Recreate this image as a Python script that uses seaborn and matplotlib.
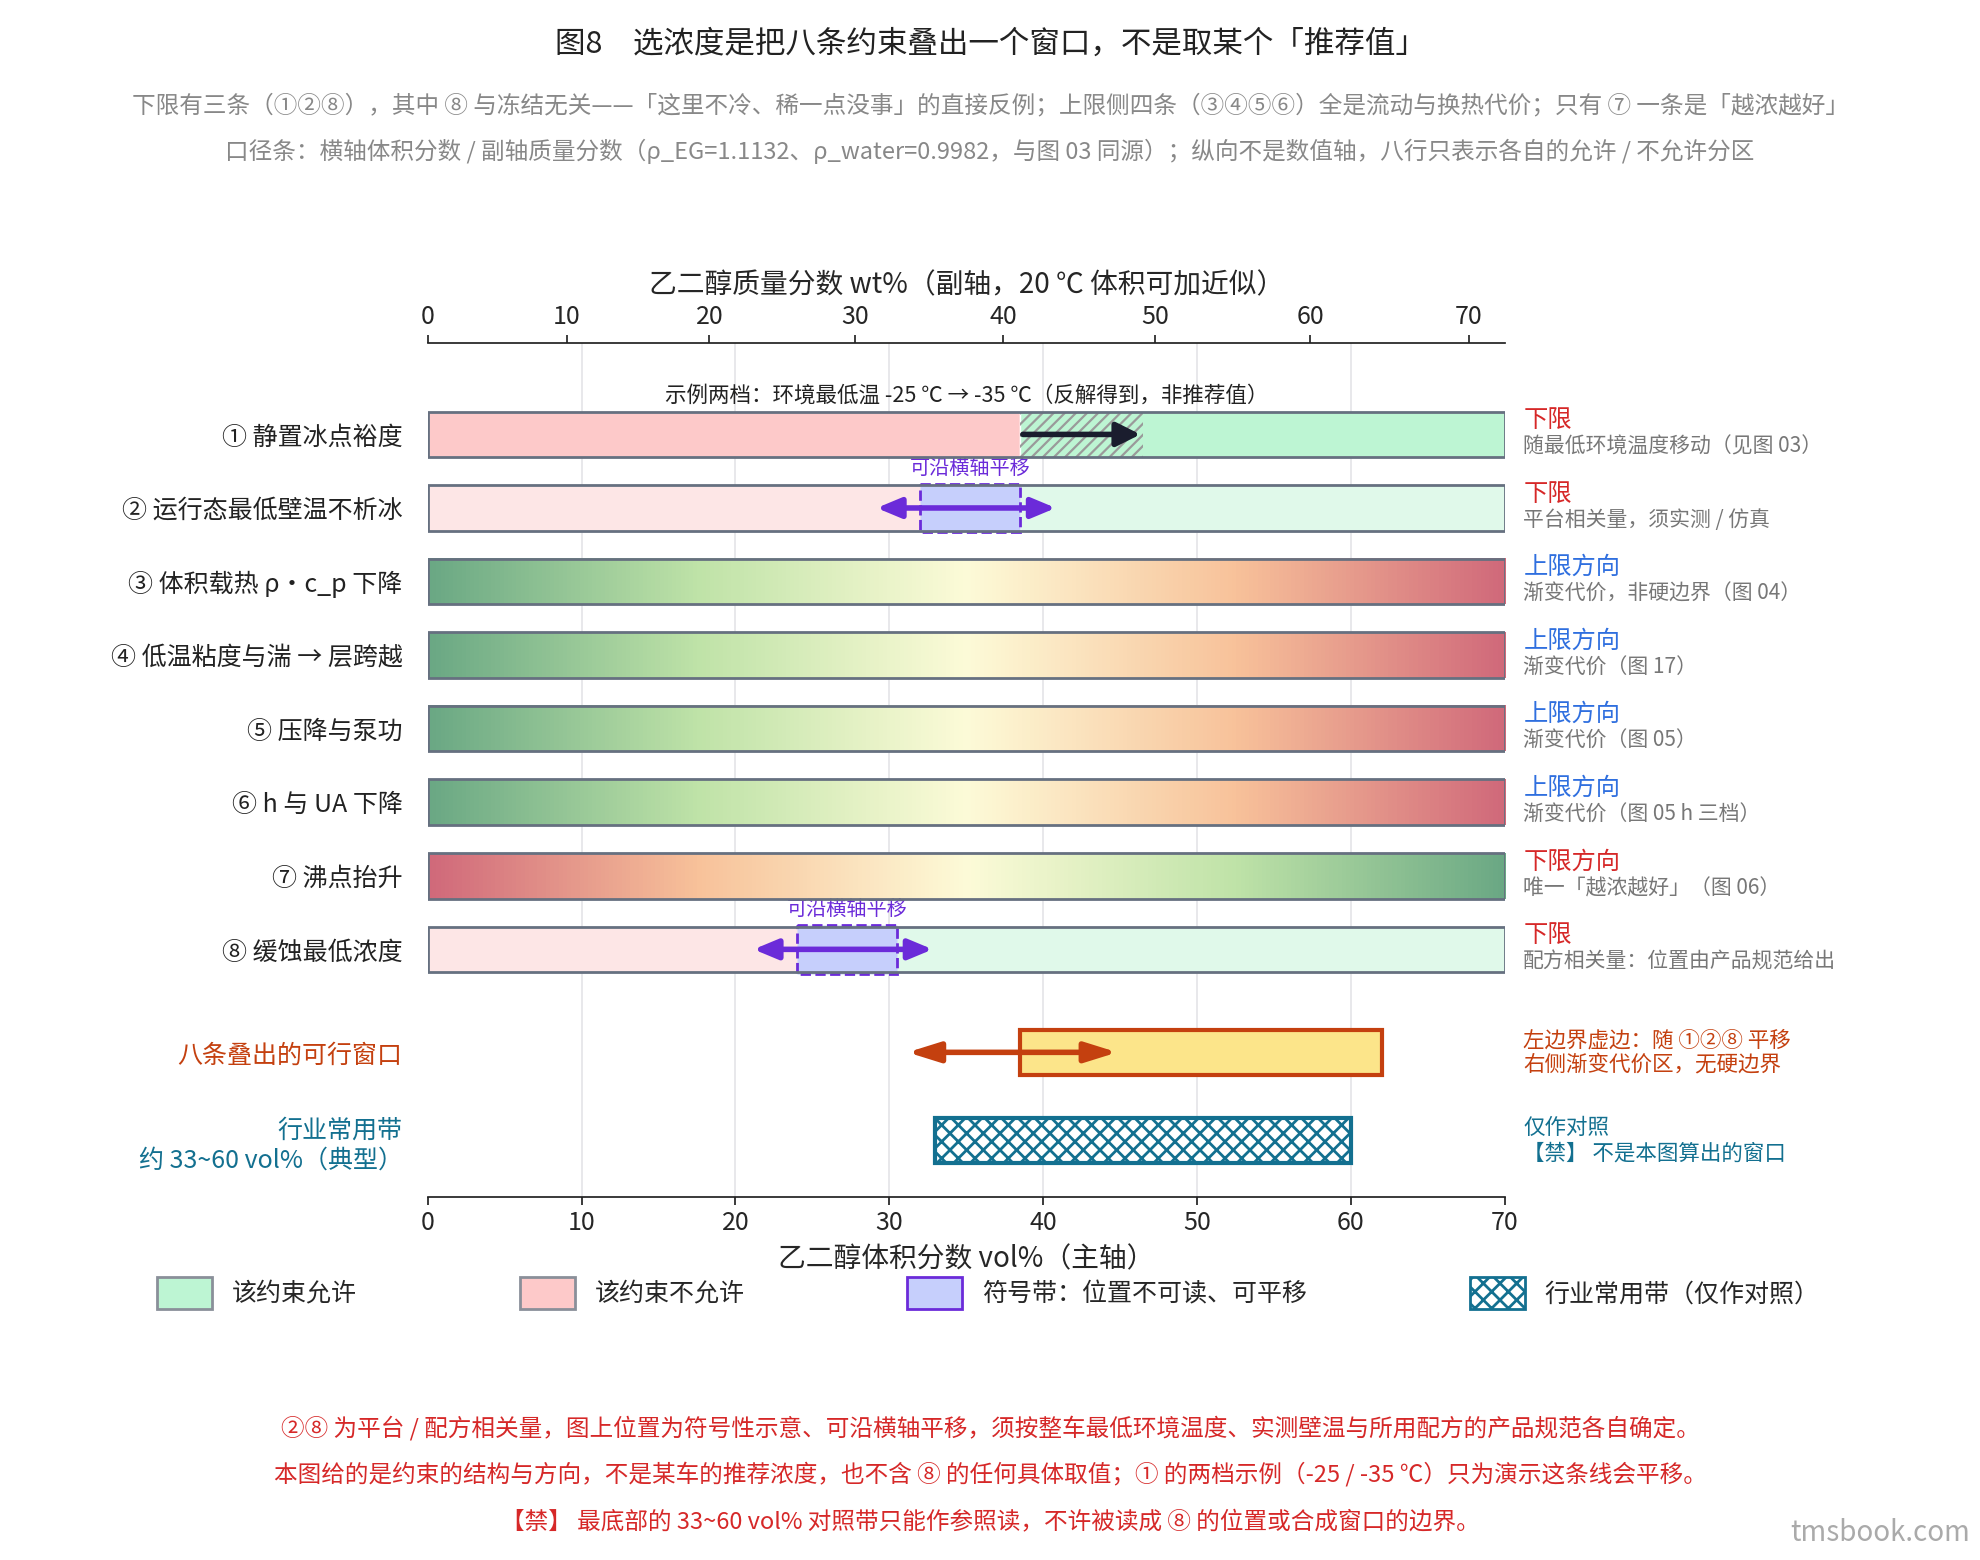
import numpy as np
import matplotlib
matplotlib.use("Agg")
import matplotlib.pyplot as plt
from matplotlib.colors import LinearSegmentedColormap
from matplotlib.patches import Patch
import seaborn as sns

sns.set_theme(style="white")
plt.rcParams['font.family'] = ['Noto Sans CJK SC', 'DejaVu Sans']
plt.rcParams['hatch.linewidth'] = 1.6

RHO_EG, RHO_W = 1.1132, 0.9982

row_labels = ["① 静置冰点裕度", "② 运行态最低壁温不析冰", "③ 体积载热 ρ・c_p 下降",
              "④ 低温粘度与湍 → 层跨越", "⑤ 压降与泵功", "⑥ h 与 UA 下降", "⑦ 沸点抬升",
              "⑧ 缓蚀最低浓度", "八条叠出的可行窗口", "行业常用带\n约 33~60 vol%（典型）"]
row_y = [0, 1, 2, 3, 4, 5, 6, 7, 8.4, 9.6]
right_head = ["下限", "下限", "上限方向", "上限方向", "上限方向", "上限方向", "下限方向", "下限"]
right_sub = ["随最低环境温度移动（见图 03）", "平台相关量，须实测 / 仿真", "渐变代价，非硬边界（图 04）",
             "渐变代价（图 17）", "渐变代价（图 05）", "渐变代价（图 05 h 三档）",
             "唯一「越浓越好」（图 06）", "配方相关量：位置由产品规范给出"]
# step rows: (split between disallowed / allowed)
split_row1 = 38.5
split_row2 = 38.5
split_row8 = 27.0
shift_row1 = (38.5, 46.5)
box_row2 = (32.0, 38.5)
arrow_row2 = (29.0, 41.0)
box_row8 = (24.0, 30.5)
arrow_row8 = (21.0, 33.0)
window = (38.5, 62.0)
window_arrow = (31.0, 45.0)
band = (33.0, 60.0)
vmax = 70

RED, RED_L = "#fdc9c9", "#fde6e6"
GRN, GRN_L = "#bdf5d3", "#e0f9ea"
EDGE = "#667080"
PURPLE = "#6b2bd9"
ORANGE = "#c4400f"
TEAL = "#137090"

fig = plt.figure(figsize=(19.8, 15.6), dpi=100)
ax = fig.add_axes([0.216, 0.233, 0.544, 0.547])
ax.set_xlim(0, vmax)
ax.set_ylim(10.36, -1.24)
for x in range(10, vmax, 10):
    ax.axvline(x, color="#e4e4e8", lw=1.2, zorder=0)
h = 0.62

def bar(y, x0, x1, **kw):
    ax.barh(y, x1 - x0, left=x0, height=h, **kw)

# row 1, 2, 8
bar(0, 0, split_row1, color=RED, zorder=2)
bar(0, split_row1, vmax, color=GRN, zorder=2)
bar(0, shift_row1[0], shift_row1[1], color="none", hatch="///", edgecolor="#9a9a9a", lw=0, zorder=3)
for y, sp in [(1, split_row2), (7, split_row8)]:
    bar(y, 0, sp, color=RED_L, zorder=2)
    bar(y, sp, vmax, color=GRN_L, zorder=2)
for y in [0, 1, 7]:
    bar(y, 0, vmax, color="none", edgecolor=EDGE, lw=2, zorder=5)

ax.annotate("", xy=(shift_row1[1], 0), xytext=(shift_row1[0], 0),
            arrowprops=dict(arrowstyle="-|>,head_width=0.6,head_length=1.2", color="#1a1d2e", lw=4), zorder=6)
ax.text(sum(shift_row1) / 2 - 7.5, -0.38, "示例两档：环境最低温 -25 ℃ → -35 ℃（反解得到，非推荐值）",
        ha="center", va="bottom", fontsize=15.5, color="#222")

for y, bx, ar in [(1, box_row2, arrow_row2), (7, box_row8, arrow_row8)]:
    ax.barh(y, bx[1] - bx[0], left=bx[0], height=h + 0.04, color="#c6cffc",
            edgecolor=PURPLE, lw=2, ls="--", zorder=4)
    ax.annotate("", xy=(ar[1], y), xytext=(ar[0], y),
                arrowprops=dict(arrowstyle="<|-|>,head_width=0.5,head_length=1.2", color=PURPLE, lw=4), zorder=6)
    ax.text(sum(bx) / 2, y - 0.38, "可沿横轴平移", ha="center", va="bottom", fontsize=14.5, color=PURPLE)

# gradient rows
cmap = LinearSegmentedColormap.from_list("cost", ["#6aa884", "#bfe3a8", "#fdfbd8", "#f8c29a", "#d0697a"])
grad = np.linspace(0, 1, 256)[None, :]
for y in [2, 3, 4, 5, 6]:
    g = grad if y < 6 else grad[:, ::-1]
    ax.imshow(g, cmap=cmap, aspect="auto", extent=(0, vmax, y + h / 2, y - h / 2), zorder=2)
    bar(y, 0, vmax, color="none", edgecolor=EDGE, lw=2, zorder=5)
ax.set_xlim(0, vmax)
ax.set_ylim(10.36, -1.24)

# window & band
bar(8.4, window[0], window[1], color="#fce58a", edgecolor=ORANGE, lw=3, zorder=3)
ax.annotate("", xy=(window_arrow[1], 8.4), xytext=(window_arrow[0], 8.4),
            arrowprops=dict(arrowstyle="<|-|>,head_width=0.5,head_length=1.6", color=ORANGE, lw=4), zorder=6)
plt.rcParams['hatch.linewidth'] = 2.0
bar(9.6, band[0], band[1], color="white", hatch="xx", edgecolor=TEAL, lw=3, zorder=3)

# y labels
ax.set_yticks(row_y)
ax.set_yticklabels(row_labels, fontsize=18)
for lab, c in zip(ax.get_yticklabels(), ["#222"] * 8 + [ORANGE, TEAL]):
    lab.set_color(c)
ax.tick_params(axis="y", length=0, pad=18)

# right notes
for y, hd, sb in zip(row_y[:8], right_head, right_sub):
    c = "#d62828" if hd.startswith("下限") else "#2f6fdf"
    ax.text(71.2, y - 0.02, hd, color=c, fontsize=17.5, va="bottom", clip_on=False)
    ax.text(71.2, y + 0.02, sb, color="#777", fontsize=15, va="top", clip_on=False)
ax.text(71.2, 8.4, "左边界虚边：随 ①②⑧ 平移\n右侧渐变代价区，无硬边界", color=ORANGE, fontsize=15.5,
        va="center", clip_on=False, linespacing=1.1)
ax.text(71.2, 9.6, "仅作对照\n【禁】 不是本图算出的窗口", color=TEAL, fontsize=15.5,
        va="center", clip_on=False, linespacing=1.2)

# axes
for s in ["top", "right", "left"]:
    ax.spines[s].set_visible(False)
ax.spines["bottom"].set_color("#222")
ax.set_xticks(range(0, vmax + 1, 10))
ax.tick_params(axis="x", labelsize=18, length=6, color="#222", bottom=True)
ax.set_xlabel("乙二醇体积分数 vol%（主轴）", fontsize=20, labelpad=6)

def v2w(v):
    v = np.asarray(v, dtype=float)
    return 100 * v * RHO_EG / (v * RHO_EG + (100 - v) * RHO_W)

def w2v(w):
    w = np.asarray(w, dtype=float)
    a = w / RHO_EG
    return 100 * a / (a + (100 - w) / RHO_W)

sec = ax.secondary_xaxis("top", functions=(v2w, w2v))
sec.set_xticks(range(0, 71, 10))
sec.tick_params(labelsize=18, length=6)
sec.spines["top"].set_color("#222")
sec.set_xlabel("乙二醇质量分数 wt%（副轴，20 ℃ 体积可加近似）", fontsize=20, labelpad=8)

# legend
handles = [Patch(facecolor=GRN, edgecolor="#8a8f99", lw=2, label="该约束允许"),
           Patch(facecolor=RED, edgecolor="#8a8f99", lw=2, label="该约束不允许"),
           Patch(facecolor="#c6cffc", edgecolor=PURPLE, lw=2, label="符号带：位置不可读、可平移"),
           Patch(facecolor="white", edgecolor=TEAL, hatch="xx", lw=2, label="行业常用带（仅作对照）")]
fig.legend(handles=handles, loc="center left", bbox_to_anchor=(0.068, 0.171), ncol=4, frameon=False,
           fontsize=18, handlelength=2.2, handleheight=1.6, columnspacing=6.5, mode=None)

# titles
fig.text(0.5, 0.966, "图8　选浓度是把八条约束叠出一个窗口，不是取某个「推荐值」", ha="center", fontsize=22, color="#222")
fig.text(0.5, 0.928, "下限有三条（①②⑧），其中 ⑧ 与冻结无关——「这里不冷、稀一点没事」的直接反例；上限侧四条（③④⑤⑥）全是流动与换热代价；只有 ⑦ 一条是「越浓越好」",
         ha="center", fontsize=17, color="#888")
fig.text(0.5, 0.898, "口径条：横轴体积分数 / 副轴质量分数（ρ_EG=1.1132、ρ_water=0.9982，与图 03 同源）；纵向不是数值轴，八行只表示各自的允许 / 不允许分区",
         ha="center", fontsize=17, color="#888")
notes = ["②⑧ 为平台 / 配方相关量，图上位置为符号性示意、可沿横轴平移，须按整车最低环境温度、实测壁温与所用配方的产品规范各自确定。",
         "本图给的是约束的结构与方向，不是某车的推荐浓度，也不含 ⑧ 的任何具体取值；① 的两档示例（-25 / -35 ℃）只为演示这条线会平移。",
         "【禁】 最底部的 33~60 vol% 对照带只能作参照读，不许被读成 ⑧ 的位置或合成窗口的边界。"]
for i, n in enumerate(notes):
    fig.text(0.5, 0.08 - i * 0.03, n, ha="center", fontsize=17, color="#d62828")
fig.text(0.995, 0.012, "tmsbook.com", ha="right", fontsize=20, color="#aaa")

fig.savefig("out.png", dpi=100)
